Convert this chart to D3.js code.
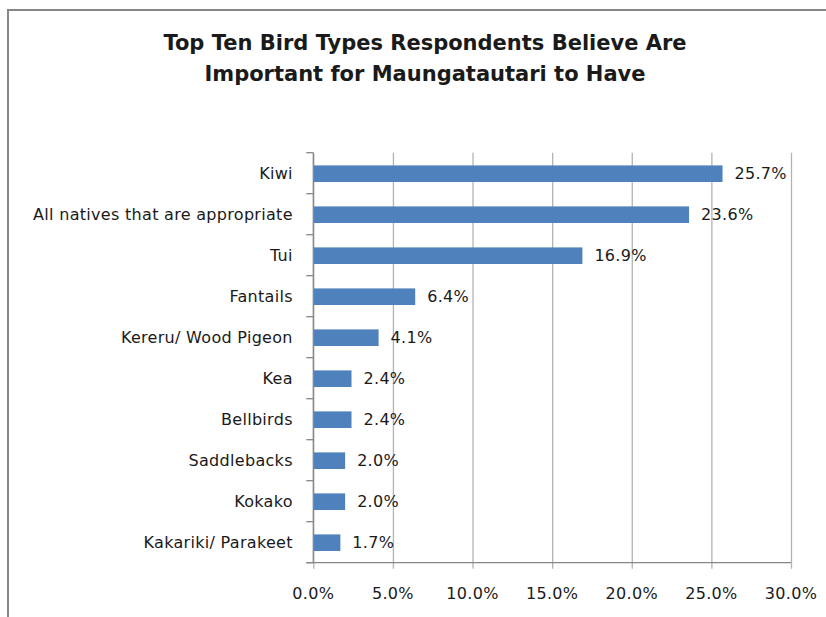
<!DOCTYPE html>
<html>
<head>
<meta charset="utf-8">
<script src="https://cdn.jsdelivr.net/npm/d3@7"></script>
<style>
  html, body { margin: 0; padding: 0; background: #fff; }
  svg { display: block; }
  text { font-family: "DejaVu Sans", sans-serif; fill: #1a1a1a; }
</style>
</head>
<body>
<script>
// Survey results: share of respondents naming each bird type
const categories = [
  "Kiwi",
  "All natives that are appropriate",
  "Tui",
  "Fantails",
  "Kereru/ Wood Pigeon",
  "Kea",
  "Bellbirds",
  "Saddlebacks",
  "Kokako",
  "Kakariki/ Parakeet"
];
const values = [25.7, 23.6, 16.9, 6.4, 4.1, 2.4, 2.4, 2.0, 2.0, 1.7];
const xTicks = [0, 5, 10, 15, 20, 25, 30];
const titleLines = [
  "Top Ten Bird Types Respondents Believe Are",
  "Important for Maungatautari to Have"
];

const W = 826, H = 617;
const plot = { left: 313.3, right: 791, top: 152.7, bottom: 562.7 };

const svg = d3.select("body").append("svg")
  .attr("width", W).attr("height", H);

svg.append("rect").attr("width", W).attr("height", H).attr("fill", "#fff");

// chart frame (continues past the right and bottom edges)
svg.append("rect")
  .attr("x", 8).attr("y", 10)
  .attr("width", W + 20).attr("height", H + 20)
  .attr("fill", "none")
  .attr("stroke", "#868686")
  .attr("stroke-width", 2);

// title
svg.append("g").selectAll("text")
  .data(titleLines)
  .join("text")
  .attr("x", 425)
  .attr("y", (d, i) => 50 + i * 31)
  .attr("text-anchor", "middle")
  .attr("font-weight", "bold")
  .attr("font-size", 21)
  .attr("fill", "#000")
  .text(d => d);

const x = d3.scaleLinear().domain([0, 30]).range([plot.left, plot.right]);
const y = d3.scaleBand().domain(categories).range([plot.top, plot.bottom]).padding(0);

// vertical gridlines with small ticks below the axis
const xAxis = d3.axisBottom(x)
  .tickValues(xTicks)
  .tickSize(-(plot.bottom - plot.top))
  .tickFormat("");
const gx = svg.append("g")
  .attr("transform", `translate(0,${plot.bottom})`)
  .call(xAxis);
gx.select(".domain").remove();
gx.selectAll(".tick line")
  .attr("stroke", "#b3b3b3")
  .attr("stroke-width", 1.3)
  .attr("y2", -(plot.bottom - plot.top))
  .attr("y1", 6);

// x tick labels
svg.append("g").selectAll("text")
  .data(xTicks)
  .join("text")
  .attr("x", d => x(d))
  .attr("y", 599)
  .attr("text-anchor", "middle")
  .attr("font-size", 16)
  .attr("letter-spacing", 0.3)
  .text(d => d.toFixed(1) + "%");

// bars
const barH = y.bandwidth() * 0.405;
svg.append("g").selectAll("rect")
  .data(values)
  .join("rect")
  .attr("x", x(0))
  .attr("y", (d, i) => y(categories[i]) + (y.bandwidth() - barH) / 2 + 0.5)
  .attr("width", d => x(d) - x(0))
  .attr("height", barH)
  .attr("fill", "#4f81bd");

// value labels
svg.append("g").selectAll("text")
  .data(values)
  .join("text")
  .attr("x", d => x(d) + 12)
  .attr("y", (d, i) => y(categories[i]) + y.bandwidth() / 2 + 0.5)
  .attr("dy", "0.36em")
  .attr("font-size", 16)
  .attr("letter-spacing", 0.3)
  .text(d => d.toFixed(1) + "%");

// category axis: line, boundary ticks, labels
const bounds = d3.range(categories.length + 1).map(i => plot.top + i * y.step());
const gy = svg.append("g");
gy.append("line")
  .attr("x1", plot.left).attr("x2", plot.left)
  .attr("y1", plot.top).attr("y2", plot.bottom)
  .attr("stroke", "#868686").attr("stroke-width", 1.3);
gy.selectAll("line.tk")
  .data(bounds)
  .join("line")
  .attr("class", "tk")
  .attr("x1", plot.left - 7).attr("x2", plot.left)
  .attr("y1", d => d).attr("y2", d => d)
  .attr("stroke", "#868686").attr("stroke-width", 1.3);
gy.selectAll("text")
  .data(categories)
  .join("text")
  .attr("x", plot.left - 20.5)
  .attr("y", d => y(d) + y.bandwidth() / 2)
  .attr("dy", "0.36em")
  .attr("text-anchor", "end")
  .attr("font-size", 16)
  .attr("letter-spacing", 0.3)
  .text(d => d);

// category axis baseline
svg.append("line")
  .attr("x1", plot.left - 7).attr("x2", plot.right)
  .attr("y1", plot.bottom).attr("y2", plot.bottom)
  .attr("stroke", "#868686").attr("stroke-width", 1.3);
</script>
</body>
</html>
